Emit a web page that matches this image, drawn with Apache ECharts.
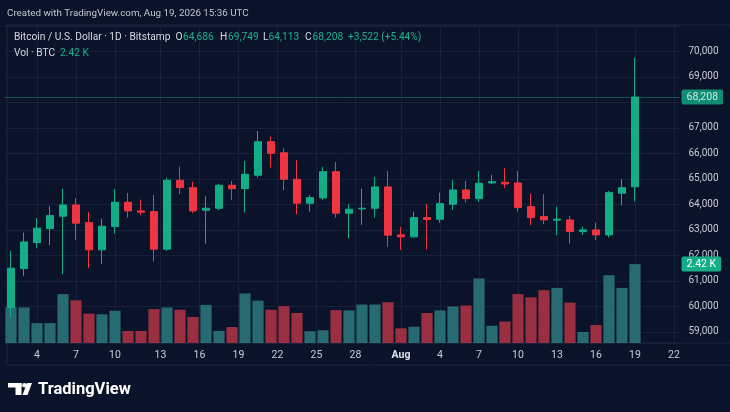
<!DOCTYPE html>
<html>
<head>
<meta charset="utf-8">
<script src="https://cdn.jsdelivr.net/npm/echarts@6/dist/echarts.min.js"></script>
<style>
  html, body { margin: 0; padding: 0; background: #0a1329; }
  #chart { width: 730px; height: 412px; }
</style>
</head>
<body>
<div id="chart"></div>
<script>
// BTC/USD daily, Jul 2 - Aug 19
const opens  = [59953, 61481, 62499, 63047, 63533, 63976, 63282, 62213, 63126, 64081, 63741, 63713, 62240, 64943, 64653, 63768, 63846,
                64747, 64614, 65139, 66455, 66024, 64982, 64042, 64250, 65280, 63650, 63819, 63846, 64681, 62801, 62723, 63478, 63415,
                64003, 64563, 64223, 64838, 64865, 64838, 63909, 63517, 63376, 63388, 62930, 62996, 62800, 64434, 64686];
const closes = [61496, 62526, 63063, 63557, 63976, 63259, 62213, 63141, 64081, 63741, 63690, 62240, 64943, 64653, 63741, 63846, 64747,
                64614, 65178, 66455, 66001, 64982, 64042, 64262, 65280, 63650, 63807, 63846, 64681, 62789, 62723, 63478, 63400, 64027,
                64563, 64223, 64826, 64888, 64798, 63870, 63478, 63388, 63415, 62930, 62996, 62800, 64458, 64653, 68208];
const lows   = [59570, 61195, 62279, 62397, 61261, 62593, 61496, 61653, 62851, 63478, 63572, 61755, 62174, 64395, 63650, 62460, 63768,
                64165, 63674, 65045, 65437, 64551, 63611, 63713, 64160, 63478, 62671, 63192, 63478, 62330, 62213, 62695, 62225, 63282,
                63780, 64066, 64093, 64786, 64630, 63713, 63180, 63220, 62789, 62460, 62794, 62598, 62695, 63964, 64113];
const highs  = [62174, 62891, 63455, 63936, 64614, 64238, 63701, 63439, 64602, 64446, 64183, 64367, 65045, 65476, 64888, 64316, 64810,
                64916, 65699, 66874, 66651, 66197, 65727, 64367, 65464, 65660, 64003, 64614, 65072, 65307, 63114, 63713, 64003, 64458,
                64955, 64916, 65307, 65151, 65413, 65307, 64418, 64395, 63909, 63545, 63126, 63282, 64524, 64982, 69749];
// volume in thousands of BTC
const volumes = [1.10, 1.09, 0.61, 0.61, 1.50, 1.31, 0.90, 0.88, 0.99, 0.37, 0.37, 1.04, 1.09, 1.02, 0.80, 1.17, 0.37, 0.49, 1.52,
                 1.30, 1.02, 1.13, 0.92, 0.36, 0.39, 1.01, 1.00, 1.18, 1.18, 1.25, 0.45, 0.50, 0.92, 1.00, 1.12, 1.15, 1.98, 0.53,
                 0.66, 1.50, 1.40, 1.62, 1.69, 1.24, 0.34, 0.55, 2.08, 1.69, 2.42];
// time scale labels and the day slot (index from Jul 2) each one sits on
const tickLabels = ['4', '7', '10', '13', '16', '19', '22', '25', '28', 'Aug', '4', '7', '10', '13', '16', '19', '22'];
const tickSlots  = [2, 5, 8, 11.5, 14.5, 17.5, 20.5, 23.5, 26.5, 30, 33, 36, 39, 42, 45, 48, 51];

const lastPrice = 68208;
const lastVolume = 2.42;

const up = '#13ad88', down = '#ef3541';
const volUp = '#276a72', volDown = '#9b2f42';
const gridColor = '#18213a', textColor = '#c9ccd4';
const font = 'Roboto, sans-serif';

// one category per day, Jul 2 .. Aug 22 (empty days at the right edge)
const days = [];
for (let i = 0; i < 52; i++) {
  const d = new Date(Date.UTC(2026, 6, 2 + i));
  days.push(d.toISOString().slice(0, 10));
}
// half-day slots for the label axis, same span as the day axis
const slots = [];
for (let j = 0; j <= 104; j++) {
  const t = tickSlots.indexOf(-0.5 + j / 2);
  slots.push(t >= 0 ? tickLabels[t] : '');
}

const candles = opens.map((o, i) => [o, closes[i], lows[i], highs[i]]);
const volBars = volumes.map((v, i) => ({
  value: v,
  itemStyle: { color: closes[i] >= opens[i] ? volUp : volDown }
}));

function txt(x, y, s, color, size, weight) {
  return {
    type: 'text', silent: true, z: 10,
    style: { text: s, x: x, y: y, fill: color, fontSize: size || 10.2, fontWeight: weight || 'normal',
             fontFamily: font, verticalAlign: 'middle' }
  };
}
function hline(x1, x2, y) {
  return { type: 'line', silent: true, shape: { x1: x1, y1: y, x2: x2, y2: y }, style: { stroke: '#1c2640', lineWidth: 1 } };
}

const chart = echarts.init(document.getElementById('chart'));
chart.setOption({
  animation: false,
  backgroundColor: '#0a1329',
  grid: { left: 4.5, right: 49.5, top: 25, bottom: 69 },
  xAxis: [
    {
      type: 'category', data: days, boundaryGap: true,
      axisLine: { show: false }, axisTick: { show: false }, axisLabel: { show: false }, splitLine: { show: false }
    },
    {
      type: 'category', data: slots, boundaryGap: false, position: 'bottom',
      axisLine: { show: false }, axisTick: { show: false },
      axisLabel: {
        interval: 0, margin: 7, color: textColor, fontSize: 10.5, fontFamily: font,
        formatter: v => v === 'Aug' ? '{b|Aug}' : v,
        rich: { b: { fontWeight: 'bold', color: '#e0e2e8', fontSize: 10.5, fontFamily: font } }
      },
      splitLine: { show: true, interval: (i, v) => v !== '', lineStyle: { color: gridColor } }
    }
  ],
  yAxis: [
    {
      type: 'value', position: 'right', min: 58561, max: 71031, splitNumber: 12,
      axisLine: { show: false }, axisTick: { show: false },
      axisLabel: {
        margin: 8, color: textColor, fontSize: 10, fontFamily: font,
        showMinLabel: false, showMaxLabel: false,
        // 68,000 sits under the last-price tag, 71,000 is above the pane
        formatter: v => (v === 68000 || v > 70000 || v % 1000) ? '' : v.toLocaleString('en-US')
      },
      splitLine: { lineStyle: { color: gridColor } }
    },
    { type: 'value', min: 0, max: 9.755, show: false }
  ],
  series: [
    {
      type: 'bar', xAxisIndex: 0, yAxisIndex: 1, data: volBars, barWidth: '86%', z: 1,
      markLine: {
        silent: true, symbol: 'none',
        lineStyle: { color: 'rgba(0,0,0,0)' },
        label: {
          position: 'end', distance: 1, formatter: lastVolume.toFixed(2) + ' K',
          color: '#ffffff', backgroundColor: up, padding: [2, 5, 2, 5], borderRadius: 2,
          fontSize: 10.5, fontFamily: font
        },
        data: [{ yAxis: lastVolume }]
      }
    },
    {
      type: 'candlestick', xAxisIndex: 0, yAxisIndex: 0, data: candles, barWidth: '62%', z: 2,
      itemStyle: { color: up, color0: down, borderColor: up, borderColor0: down, borderWidth: 1 },
      markLine: {
        silent: true, symbol: 'none',
        lineStyle: { color: up, type: 'dotted', width: 1, opacity: 0.8 },
        label: {
          position: 'end', distance: 1, formatter: lastPrice.toLocaleString('en-US'),
          color: '#ffffff', backgroundColor: up, padding: [2, 5, 2, 5], borderRadius: 2,
          fontSize: 10.5, fontFamily: font
        },
        data: [{ yAxis: lastPrice }]
      }
    }
  ],
  graphic: [
    { type: 'line', silent: true, shape: { x1: 7, y1: 25, x2: 7, y2: 365 }, style: { stroke: '#1c2640', lineWidth: 1 } },
    hline(7, 730, 25), hline(7, 730, 343), hline(7, 730, 365),
    txt(7, 14, 'Created with TradingView.com, Aug 19, 2026 15:36 UTC', '#c3c6ce', 9.8),
    txt(14, 37.5, 'Bitcoin / U.S. Dollar · 1D · Bitstamp', '#d6d8de'),
    txt(175.5, 37.5, 'O', '#d6d8de'), txt(183, 37.5, '64,686', '#1db28f'),
    txt(220, 37.5, 'H', '#d6d8de'), txt(228, 37.5, '69,749', '#1db28f'),
    txt(263, 37.5, 'L', '#d6d8de'), txt(268.5, 37.5, '64,113', '#1db28f'),
    txt(305, 37.5, 'C', '#d6d8de'), txt(312.5, 37.5, '68,208', '#1db28f'),
    txt(348, 37.5, '+3,522 (+5.44%)', '#1db28f'),
    txt(14, 53.5, 'Vol · BTC', '#d6d8de'), txt(60, 53.5, '2.42 K', '#1db28f'),
    // TradingView mark
    { type: 'rect', silent: true, shape: { x: 8, y: 383, width: 13.5, height: 4.5 }, style: { fill: '#ffffff' } },
    { type: 'rect', silent: true, shape: { x: 15.5, y: 383, width: 6, height: 12 }, style: { fill: '#ffffff' } },
    { type: 'circle', silent: true, shape: { cx: 24.5, cy: 385.3, r: 2.3 }, style: { fill: '#ffffff' } },
    { type: 'polygon', silent: true, shape: { points: [[27, 383], [32, 383], [27.5, 395], [22.5, 395]] }, style: { fill: '#ffffff' } },
    txt(38, 389.5, 'TradingView', '#ffffff', 16.5, 'bold')
  ]
});
</script>
</body>
</html>
